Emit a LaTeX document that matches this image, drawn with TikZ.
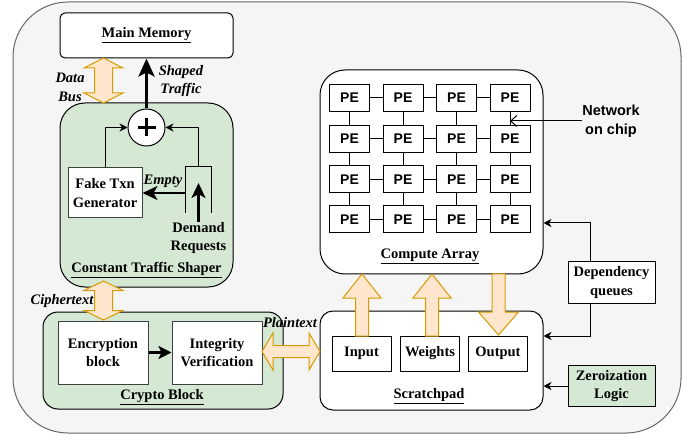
\documentclass[tikz,border=0pt]{standalone}
\usepackage{fontspec}
\setmainfont{Liberation Serif}
\newfontfamily\sansf{Liberation Sans}
\usetikzlibrary{arrows.meta}
\definecolor{grnfill}{HTML}{D5E8D4}
\definecolor{orfill}{HTML}{FFE6CC}
\definecolor{orline}{HTML}{D79B00}
\definecolor{bgfill}{HTML}{F5F5F5}
\definecolor{bgline}{HTML}{666666}
\tikzset{
  box/.style={draw=black, line width=1pt, fill=white, align=center, inner sep=0pt},
  grnbox/.style={draw=black, line width=1pt, fill=grnfill, inner sep=0pt},
  lbl/.style={align=center, inner sep=0pt},
  pebox/.style={draw=black, line width=1pt, fill=white, inner sep=0pt, minimum width=40pt, minimum height=27pt, font=\fontsize{14}{16}\selectfont\sansf\bfseries},
  thinarr/.style={line width=1pt, -{Stealth[length=8pt,width=8pt,inset=2.5pt]}},
  boldarr/.style={line width=2.6pt, -{Stealth[length=15pt,width=14pt,inset=4pt]}},
  fatarr/.style={draw=orline, fill=orfill, line width=1pt, line join=miter},
}
\newcommand\dArrowV[6]{%
  \filldraw[fatarr] (#1,#2) -- (#1+#5,#2+#6) -- (#1+#4,#2+#6) -- (#1+#4,#3-#6) -- (#1+#5,#3-#6) -- (#1,#3) -- (#1-#5,#3-#6) -- (#1-#4,#3-#6) -- (#1-#4,#2+#6) -- (#1-#5,#2+#6) -- cycle;}
\newcommand\dArrowH[6]{%
  \filldraw[fatarr] (#2,#1) -- (#2+#6,#1-#5) -- (#2+#6,#1-#4) -- (#3-#6,#1-#4) -- (#3-#6,#1-#5) -- (#3,#1) -- (#3-#6,#1+#5) -- (#3-#6,#1+#4) -- (#2+#6,#1+#4) -- (#2+#6,#1+#5) -- cycle;}
\newcommand\sArrowV[6]{%
  \filldraw[fatarr] (#1-#4,#2) -- (#1-#4,#3+#6) -- (#1-#5,#3+#6) -- (#1,#3) -- (#1+#5,#3+#6) -- (#1+#4,#3+#6) -- (#1+#4,#2) -- cycle;}
\begin{document}
\begin{tikzpicture}[x=1pt, y=-1pt, font=\fontsize{14.5}{18.5}\selectfont\bfseries]
\useasboundingbox (0,0) rectangle (687,435);
% outer background
\draw[fill=bgfill, draw=bgline, line width=1pt, rounded corners=55pt] (13,2) rectangle (681,433);

% ---------- Main memory & traffic shaper ----------
\node[box, rounded corners=5pt, minimum width=173pt, minimum height=45pt] (mm) at (146.5,35.5) {\underline{Main Memory}};
\node[grnbox, rounded corners=25pt, minimum width=173pt, minimum height=184pt] (cts) at (146.5,195) {};
\node[lbl] (ctslbl) at (146.5,270) {\underline{Constant Traffic Shaper}};

\node[circle, draw=black, fill=white, line width=1pt, minimum size=37pt, inner sep=0pt] (plus) at (146.5,127.5) {};
\draw[line width=3.5pt] (plus.center) ++(-9,0) -- ++(18,0);
\draw[line width=3.5pt] (plus.center) ++(0,-9) -- ++(0,18);

\node[box, draw=black!75, minimum width=74pt, minimum height=50pt] (fake) at (105,193) {Fake Txn\\Generator};
\node[minimum width=25pt, minimum height=46pt, inner sep=0pt] (queue) at (198.5,190) {};
\draw[line width=1pt] (queue.south west) -- (queue.north west) -- (queue.north east) -- (queue.south east);
\node[lbl] (dem) at (198.5,238) {Demand\\Requests};
\draw[boldarr] (dem.north) -- ([yshift=7pt]queue.center);
\draw[boldarr] (queue.west |- fake.center) -- (fake.east);
\node[lbl, font=\fontsize{14.5}{18.5}\selectfont\bfseries\itshape] (emptylbl) at (163,181) {Empty};

\draw[thinarr] (fake.north) |- (plus.west);
\draw[thinarr] (queue.north) |- (plus.east);
\draw[line width=3pt, -{Stealth[length=18pt,width=16pt,inset=4pt]}] (plus.north) -- (mm.south);
\node[lbl, font=\fontsize{14.5}{18}\selectfont\bfseries\itshape] (shaped) at (181,81) {Shaped\\Traffic};

\dArrowV{103.5}{58}{103}{9}{19.5}{10}
\node[lbl, font=\fontsize{14.5}{19}\selectfont\bfseries\itshape] (databus) at (70,87.5) {Data\\Bus};

% ---------- Crypto block ----------
\node[grnbox, rounded corners=15pt, minimum width=240pt, minimum height=97pt] (crypto) at (163,360.5) {};
\node[box, draw=black!75, minimum width=90pt, minimum height=63pt] (enc) at (103,352.5) {Encryption\\block};
\node[box, draw=black!75, minimum width=90pt, minimum height=63pt] (integ) at (217,352.5) {Integrity\\Verification};
\draw[line width=2.5pt, -{Stealth[length=13pt,width=13pt,inset=3pt]}] (enc.east) -- (integ.west);
\node[lbl] (cryptolbl) at (162,397) {\underline{Crypto Block}};

\dArrowV{103.5}{281}{320}{9}{19.5}{9.5}
\node[lbl, font=\fontsize{14.5}{18}\selectfont\bfseries\itshape] (cipher) at (62,301) {Ciphertext};

% ---------- Compute array ----------
\node[box, rounded corners=25pt, minimum width=223pt, minimum height=204pt] (ca) at (431.5,172) {};
\node[lbl] (calbl) at (430,256.5) {\underline{Compute Array}};
\foreach \r/\yy in {1/98,2/139,3/179.5,4/219.5}{
  \foreach \c/\xx in {1/349.5,2/403,3/456.5,4/510}{
    \node[pebox] (pe-\r-\c) at (\xx,\yy) {PE};
  }
}
\foreach \r in {1,2,3,4}{
  \foreach \c/\n in {1/2,2/3,3/4}{
    \draw[line width=1pt] (pe-\r-\c.east) -- (pe-\r-\n.west);
    \draw[line width=1pt] (pe-\c-\r.south) -- (pe-\n-\r.north);
  }
}
\node[lbl, font=\fontsize{14.5}{19}\selectfont\sansf\bfseries] (noc) at (611,121) {Network\\on chip};
\draw[line width=1pt, -{Straight Barb[length=6pt,width=11pt]}] (noc.west) -- (noc.west -| pe-1-4.south);

% ---------- Scratchpad ----------
\node[box, rounded corners=13pt, minimum width=223pt, minimum height=99pt] (sp) at (431.5,360.5) {};
\node[box, minimum width=59pt, minimum height=35pt] (inp) at (361.5,353.5) {Input};
\node[box, minimum width=59pt, minimum height=35pt] (wts) at (430,353.5) {Weights};
\node[box, minimum width=59pt, minimum height=35pt] (outp) at (498,353.5) {Output};
\node[lbl] (splbl) at (429,396) {\underline{Scratchpad}};

\sArrowV{362}{336}{274}{6.5}{19}{24}
\sArrowV{432}{336}{274}{6.5}{19}{24}
\sArrowV{498.5}{274}{335}{6.5}{20}{-23}

\dArrowH{351.5}{262}{320}{6}{18.5}{11}
\node[lbl, font=\fontsize{14.5}{18}\selectfont\bfseries\itshape] (plain) at (290,323) {Plaintext};

% ---------- Side blocks ----------
\node[box, minimum width=87pt, minimum height=41pt] (dep) at (611.5,282.5) {Dependency\\queues};
\node[box, fill=grnfill, minimum width=87pt, minimum height=41pt] (zl) at (611.5,386) {Zeroization\\Logic};
\draw[thinarr] ([xshift=-21.5pt]dep.north) |- ([yshift=-51pt]ca.east);
\draw[thinarr] ([xshift=-21.5pt]dep.south) |- ([yshift=24.5pt]sp.east);
\draw[thinarr] (zl.west) -- (zl.west -| sp.east);
\end{tikzpicture}
\end{document}
